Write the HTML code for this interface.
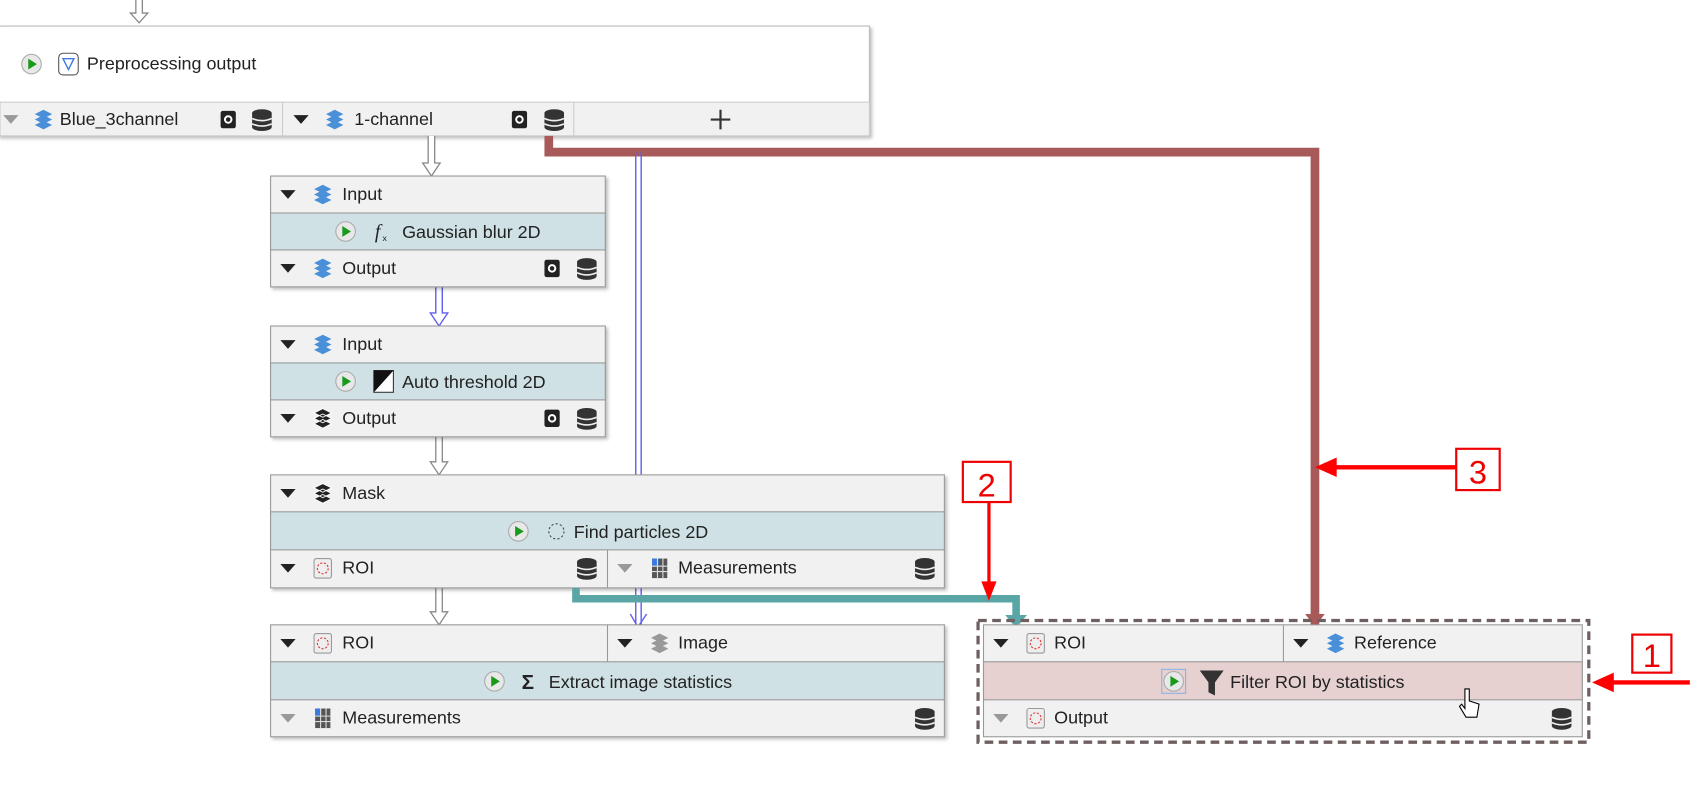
<!DOCTYPE html>
<html><head><meta charset="utf-8"><style>
html,body{margin:0;padding:0;background:#fff;}
svg{display:block;}
text{font-family:"Liberation Sans",sans-serif;font-size:16.5px;fill:#222;}
</style></head><body>
<svg width="1704" height="810" viewBox="0 0 1568 745.4" preserveAspectRatio="none" xmlns="http://www.w3.org/2000/svg">
<defs>
<filter id="sh" x="-5%" y="-5%" width="110%" height="120%"><feDropShadow dx="2" dy="2" stdDeviation="1.5" flood-color="#000" flood-opacity="0.25"/></filter>
<g id="db"><ellipse cx="0" cy="-6" rx="9" ry="3.5" fill="#333"/><rect x="-9" y="-6" width="18" height="13" fill="#333"/><ellipse cx="0" cy="7" rx="9" ry="3.5" fill="#333"/><path d="M-9,-1 Q0,3 9,-1 M-9,4 Q0,8 9,4" stroke="#eee" stroke-width="1.5" fill="none"/></g>
<g id="cam"><rect x="-7" y="-8" width="14" height="16" rx="2" fill="#222"/><circle cx="0" cy="0" r="3" fill="none" stroke="#fff" stroke-width="1.8"/></g>
<g id="stk"><path d="M-8,-5 L0,-9 L8,-5 L0,-1Z M-8,0 L0,-4 L8,0 L0,4Z M-8,5 L0,1 L8,5 L0,9Z" fill="#4a90d9"/></g>
<g id="stkb"><path d="M-8,-5 L0,-9 L8,-5 L0,-1Z M-8,0 L0,-4 L8,0 L0,4Z M-8,5 L0,1 L8,5 L0,9Z" fill="#222" stroke="#fff" stroke-width="0.8"/></g>
<g id="stkg"><path d="M-8,-5 L0,-9 L8,-5 L0,-1Z M-8,0 L0,-4 L8,0 L0,4Z M-8,5 L0,1 L8,5 L0,9Z" fill="#999"/></g>
<g id="roi"><rect x="-8" y="-9" width="16" height="18" rx="2" fill="#eee" stroke="#999"/><circle cx="0" cy="0" r="5" fill="none" stroke="#d33" stroke-dasharray="2 1.5"/></g>
<g id="tbl"><rect x="-7" y="-9" width="14" height="18" fill="#555"/><rect x="-7" y="-9" width="6" height="7" fill="#3b7be0"/><path d="M-7,-2H7M-7,3H7M-2,-9V9M3,-9V9" stroke="#ddd" stroke-width="1"/></g>
<g id="play"><circle cx="0" cy="0" r="9" fill="#e8e8e8" stroke="#aaa"/><path d="M-3,-5 L5,0 L-3,5Z" fill="#1a9a1a"/></g>
<g id="tri"><path d="M-7,-4 L7,-4 L0,4Z" fill="#222"/></g>
<g id="trig"><path d="M-7,-4 L7,-4 L0,4Z" fill="#999"/></g>
</defs>

<path d="M125,0V12H120L128,21L136,12H131V0" fill="#fff" stroke="#888" stroke-width="1.2"/>

<g filter="url(#sh)"><rect x="-2" y="24" width="802" height="101" fill="#fff" stroke="#bbb"/></g>
<rect x="0" y="94" width="800" height="31" fill="#f1f1f1" stroke="#ccc"/>
<line x1="260" y1="94" x2="260" y2="125" stroke="#ccc"/><line x1="528" y1="94" x2="528" y2="125" stroke="#ccc"/>
<use href="#play" x="29" y="59"/>
<rect x="54" y="49" width="18" height="20" rx="4" fill="#fff" stroke="#555"/><path d="M58,54 L68,54 L63,64 Z" fill="none" stroke="#3b7be0" stroke-width="1.3"/>
<text x="80" y="64">Preprocessing output</text>
<use href="#trig" x="10" y="110"/><use href="#stk" x="40" y="110"/><text x="55" y="115">Blue_3channel</text>
<use href="#cam" x="210" y="110"/><use href="#db" x="241" y="110"/>
<use href="#tri" x="277" y="110"/><use href="#stk" x="308" y="110"/><text x="326" y="115">1-channel</text>
<use href="#cam" x="478" y="110"/><use href="#db" x="510" y="110"/>
<path d="M654,110H672M663,101V119" stroke="#333" stroke-width="2"/>

<path d="M505,125V140H1210V575" fill="none" stroke="#a85a5a" stroke-width="8"/>
<path d="M1201,565 L1219,565 L1210,577Z" fill="#a85a5a"/>

<path d="M585,140V575M590,140V575" stroke="#6060f0" stroke-width="1.3"/>
<path d="M580,565 L587,577 L595,565" fill="none" stroke="#6060f0" stroke-width="1.3"/>

<path d="M394,125V150H389L397,162L405,150H400V125" fill="#fff" stroke="#888" stroke-width="1.2"/>
<path d="M401,264V288H396L404,300L412,288H407V264" fill="#fff" stroke="#6060f0" stroke-width="1.3"/>
<path d="M401,402V425H396L404,437L412,425H407V402" fill="#fff" stroke="#888" stroke-width="1.2"/>
<path d="M401,541V563H396L404,575L412,563H407V541" fill="#fff" stroke="#888" stroke-width="1.2"/>

<g filter="url(#sh)"><rect x="249" y="162" width="308" height="102" fill="#f1f1f1" stroke="#999"/></g>
<rect x="249" y="196" width="308" height="34" fill="#cfe1e5" stroke="#999"/>
<use href="#tri" x="265" y="179"/><use href="#stk" x="297" y="179"/><text x="315" y="184">Input</text>
<use href="#play" x="318" y="213"/><text x="345" y="219" style="font-style:italic;font-family:'Liberation Serif',serif;font-size:18px">f</text><text x="352" y="222" style="font-size:8px">x</text><text x="370" y="219">Gaussian blur 2D</text>
<use href="#tri" x="265" y="247"/><use href="#stk" x="297" y="247"/><text x="315" y="252">Output</text>
<use href="#cam" x="508" y="247"/><use href="#db" x="540" y="247"/>

<g filter="url(#sh)"><rect x="249" y="300" width="308" height="102" fill="#f1f1f1" stroke="#999"/></g>
<rect x="249" y="334" width="308" height="34" fill="#cfe1e5" stroke="#999"/>
<use href="#tri" x="265" y="317"/><use href="#stk" x="297" y="317"/><text x="315" y="322">Input</text>
<use href="#play" x="318" y="351"/><rect x="344" y="341" width="18" height="20" fill="#fff" stroke="#333"/><path d="M344,361 L362,341 L344,341Z" fill="#111"/><text x="370" y="357">Auto threshold 2D</text>
<use href="#tri" x="265" y="385"/><use href="#stkb" x="297" y="385"/><text x="315" y="390">Output</text>
<use href="#cam" x="508" y="385"/><use href="#db" x="540" y="385"/>

<g filter="url(#sh)"><rect x="249" y="437" width="620" height="104" fill="#f1f1f1" stroke="#999"/></g>
<rect x="249" y="471" width="620" height="35" fill="#cfe1e5" stroke="#999"/>
<line x1="559" y1="506" x2="559" y2="541" stroke="#999"/>
<use href="#tri" x="265" y="454"/><use href="#stkb" x="297" y="454"/><text x="315" y="459">Mask</text>
<use href="#play" x="477" y="489"/><circle cx="512" cy="489" r="7" fill="none" stroke="#444" stroke-dasharray="2 2"/><text x="528" y="495">Find particles 2D</text>
<use href="#tri" x="265" y="523"/><use href="#roi" x="297" y="523"/><text x="315" y="528">ROI</text><use href="#db" x="540" y="523"/>
<use href="#trig" x="575" y="523"/><use href="#tbl" x="607" y="523"/><text x="624" y="528">Measurements</text><use href="#db" x="851" y="523"/>

<path d="M530,541V551H935V568" fill="none" stroke="#5aa6a6" stroke-width="7"/>
<path d="M925,566 L945,566 L935,578Z" fill="#5aa6a6"/>

<g filter="url(#sh)"><rect x="249" y="575" width="620" height="103" fill="#f1f1f1" stroke="#999"/></g>
<rect x="249" y="609" width="620" height="35" fill="#cfe1e5" stroke="#999"/>
<line x1="559" y1="575" x2="559" y2="609" stroke="#999"/>
<use href="#tri" x="265" y="592"/><use href="#roi" x="297" y="592"/><text x="315" y="597">ROI</text>
<use href="#tri" x="575" y="592"/><use href="#stkg" x="607" y="592"/><text x="624" y="597">Image</text>
<use href="#play" x="455" y="627"/><text x="480" y="634" style="font-size:19px;font-weight:bold">Σ</text><text x="505" y="633">Extract image statistics</text>
<use href="#trig" x="265" y="661"/><use href="#tbl" x="297" y="661"/><text x="315" y="666">Measurements</text><use href="#db" x="851" y="661"/>

<rect x="900" y="571" width="562" height="112" fill="none" stroke="#6e6060" stroke-width="3" stroke-dasharray="8 5"/>
<rect x="905" y="575" width="551" height="103" fill="#f1f1f1" stroke="#999"/>
<rect x="905" y="609" width="551" height="35" fill="#e6d0d0" stroke="#999"/>
<line x1="1181" y1="575" x2="1181" y2="609" stroke="#999"/>
<use href="#tri" x="921" y="592"/><use href="#roi" x="953" y="592"/><text x="970" y="597">ROI</text>
<use href="#tri" x="1197" y="592"/><use href="#stk" x="1229" y="592"/><text x="1246" y="597">Reference</text>
<rect x="1069" y="616" width="22" height="22" fill="none" stroke="#8ab4e8"/><use href="#play" x="1080" y="627"/>
<path d="M1104,617 H1126 L1118,628 V640 L1112,637 V628Z" fill="#333"/><text x="1132" y="633">Filter ROI by statistics</text>
<use href="#trig" x="921" y="661"/><use href="#roi" x="953" y="661"/><text x="970" y="666">Output</text><use href="#db" x="1437" y="661"/>
<path d="M1348,634 V652 L1345,648 L1343,650 L1349,660 H1359 L1361,648 L1352,645 V634 Z" fill="#fff" stroke="#000" stroke-width="1"/>

<rect x="886" y="425" width="44" height="37" fill="#fff" stroke="#e00" stroke-width="2"/><text x="908" y="457" text-anchor="middle" style="font-size:30px;fill:#e00">2</text>
<path d="M910,462V540" stroke="#f00" stroke-width="3"/><path d="M903,535 L917,535 L910,553Z" fill="#f00"/>
<rect x="1340" y="413" width="40" height="38" fill="#fff" stroke="#e00" stroke-width="2"/><text x="1360" y="445" text-anchor="middle" style="font-size:30px;fill:#e00">3</text>
<path d="M1340,430H1225" stroke="#f00" stroke-width="4"/><path d="M1230,421 L1230,439 L1210,430Z" fill="#f00"/>
<rect x="1502" y="584" width="36" height="35" fill="#fff" stroke="#e00" stroke-width="2"/><text x="1520" y="614" text-anchor="middle" style="font-size:30px;fill:#e00">1</text>
<path d="M1555,628H1480" stroke="#f00" stroke-width="4"/><path d="M1485,619 L1485,637 L1465,628Z" fill="#f00"/>
</svg>
</body></html>
